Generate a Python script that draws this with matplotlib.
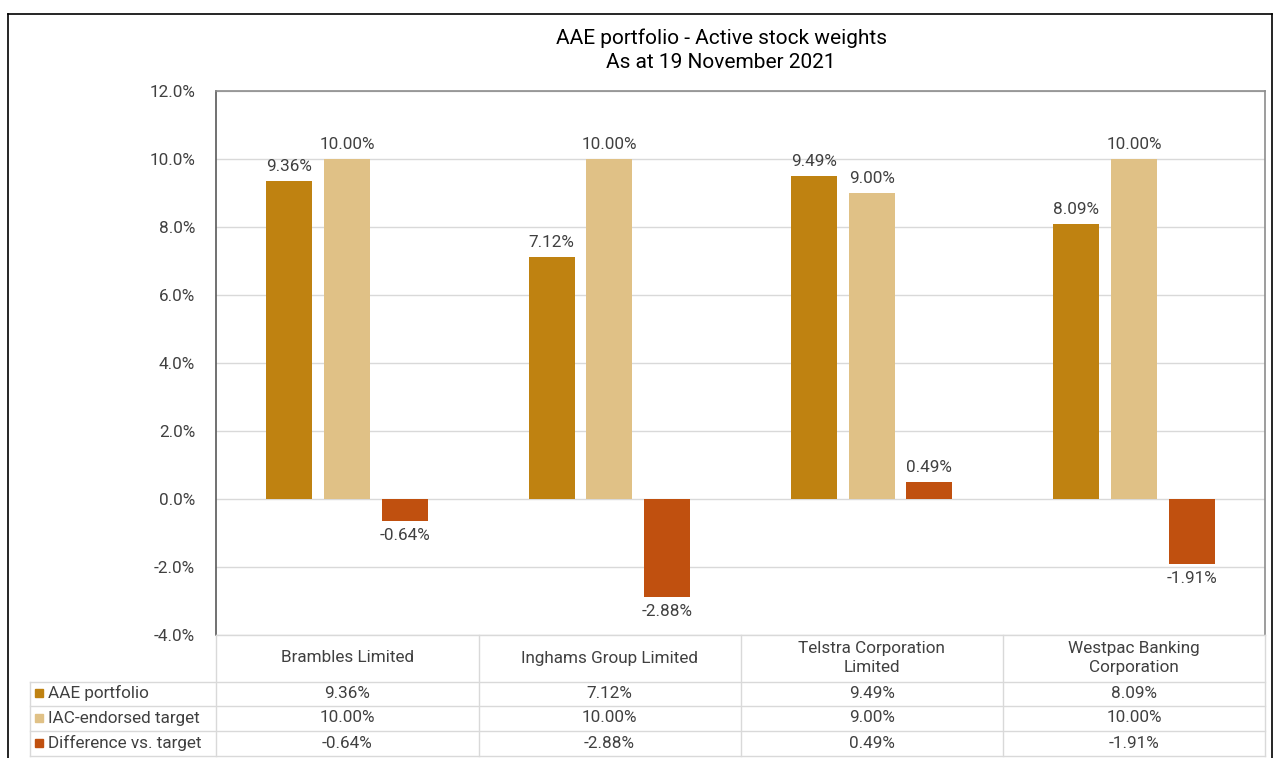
import numpy as np
import matplotlib.pyplot as plt
from matplotlib.lines import Line2D
from matplotlib.patches import Rectangle

plt.rcParams["font.family"] = ["Roboto", "DejaVu Sans"]

W, H = 1274, 758

categories = ["Brambles Limited", "Inghams Group Limited",
              "Telstra Corporation\nLimited", "Westpac Banking\nCorporation"]
series_names = ["AAE portfolio", "IAC-endorsed target", "Difference vs. target"]
aae = [9.36, 7.12, 9.49, 8.09]
iac = [10.00, 10.00, 9.00, 10.00]
diff = [-0.64, -2.88, 0.49, -1.91]
colors = ["#BF8211", "#E0C186", "#C0500F"]
yticks = [-4, -2, 0, 2, 4, 6, 8, 10, 12]

TEXT = "#404040"
GRID = "#D9D9D9"
FS = 12.3


def fx(px):
    return px / W


def fy(py):
    return 1 - py / H


fig = plt.figure(figsize=(W / 100, H / 100), dpi=100)
ax = fig.add_axes([fx(216), fy(635), (1265 - 216) / W, (635 - 91) / H])

x = np.arange(len(categories))
step = 0.22
width = 0.175
for i, (vals, col) in enumerate(zip([aae, iac, diff], colors)):
    pos = x + (i - 1) * step
    ax.bar(pos, vals, width=width, color=col, zorder=3)
    for p, v in zip(pos, vals):
        off = 5 if v >= 0 else -5
        ax.annotate(f"{v:.2f}%", (p, v), xytext=(0, off), textcoords="offset points",
                    ha="center", va="bottom" if v >= 0 else "top",
                    fontsize=FS, color=TEXT)

ax.set_xlim(-0.5, len(categories) - 0.5)
ax.set_ylim(-4, 12)
ax.set_yticks(yticks)
ax.set_yticklabels([f"{t:.1f}%" for t in yticks], fontsize=FS, color=TEXT)
ax.tick_params(axis="y", length=0, pad=15)
ax.set_xticks([])
ax.grid(axis="y", color=GRID, linewidth=1, zorder=0)
for s in ["top", "right", "left"]:
    ax.spines[s].set_color("#8C8C8C")
    ax.spines[s].set_linewidth(1.2)
ax.spines["left"].set_color("#595959")
ax.spines["bottom"].set_visible(False)

fig.text(fx(721), fy(50), "AAE portfolio - Active stock weights\nAs at 19 November 2021",
         ha="center", va="center", fontsize=15, color="black", linespacing=1.3)

# data table below the axis
tcol = "#D9D9D9"
row_lines = [635, 682, 706, 731, 756]
for k, yl in enumerate(row_lines):
    x0 = 216 if k == 0 else 30
    fig.add_artist(Line2D([fx(x0), fx(1265)], [fy(yl), fy(yl)], color=tcol, lw=1))
col_edges = [216, 479, 741, 1003, 1265]
for xe in col_edges:
    fig.add_artist(Line2D([fx(xe), fx(xe)], [fy(635), fy(756)], color=tcol, lw=1))
fig.add_artist(Line2D([fx(30), fx(30)], [fy(682), fy(756)], color=tcol, lw=1))

trans = ax.get_xaxis_transform()


def ay(py):
    return (635 - py) / (635 - 91)


for i, cat in enumerate(categories):
    ax.text(i, ay(658), cat, transform=trans, ha="center", va="center",
            fontsize=FS, color=TEXT, clip_on=False, linespacing=1.4)

row_centers = [693, 718, 743]
for name, vals, col, yc in zip(series_names, [aae, iac, diff], colors, row_centers):
    fig.add_artist(Rectangle((fx(35), fy(yc + 4)), 8 / W, 8 / H, color=col,
                             transform=fig.transFigure))
    fig.text(fx(48), fy(yc), name, ha="left", va="center", fontsize=FS, color=TEXT)
    for i, v in enumerate(vals):
        ax.text(i, ay(yc), f"{v:.2f}%", transform=trans, ha="center", va="center",
                fontsize=FS, color=TEXT, clip_on=False)

# outer frame
frame_kw = dict(color="black", lw=1.2)
fig.add_artist(Line2D([fx(8), fx(1272)], [fy(14), fy(14)], **frame_kw))
fig.add_artist(Line2D([fx(8), fx(8)], [fy(14), 0], **frame_kw))
fig.add_artist(Line2D([fx(1272), fx(1272)], [fy(14), 0], **frame_kw))

fig.savefig("out.png", dpi=100, facecolor="white")
